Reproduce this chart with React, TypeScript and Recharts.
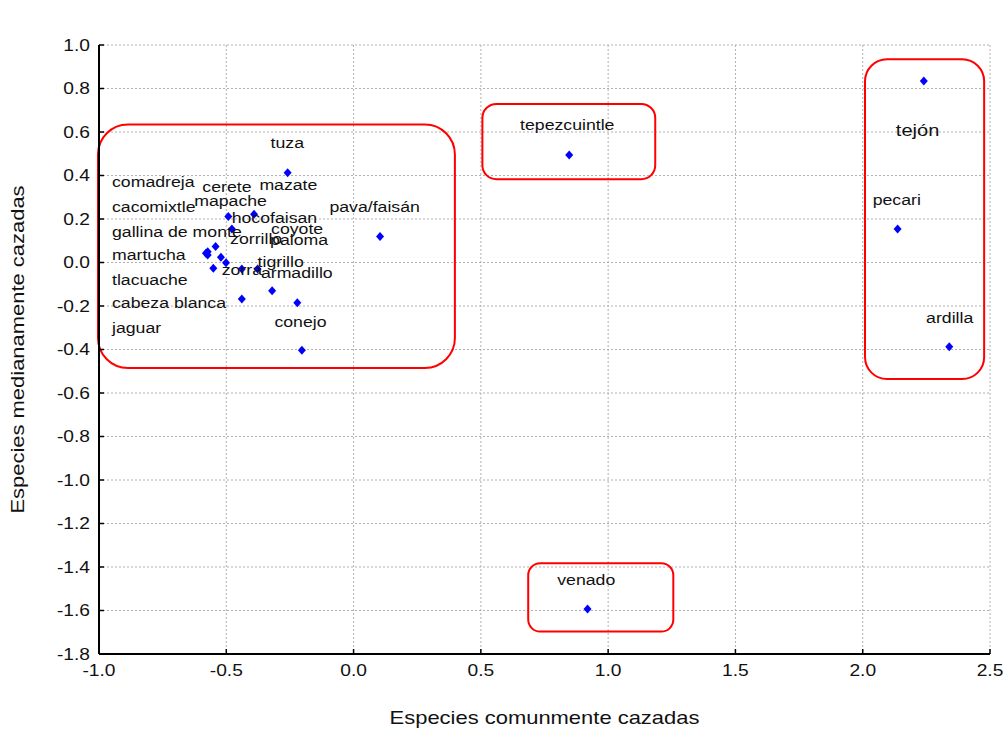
import React from "react";
import {
  ScatterChart,
  Scatter,
  XAxis,
  YAxis,
  CartesianGrid,
  ReferenceArea,
} from "recharts";

document.body.style.margin = "0";

const X_TICKS = [-1.0, -0.5, 0.0, 0.5, 1.0, 1.5, 2.0, 2.5];
const Y_TICKS = [1.0, 0.8, 0.6, 0.4, 0.2, 0.0, -0.2, -0.4, -0.6, -0.8, -1.0, -1.2, -1.4, -1.6, -1.8];

// species coordinates (dimension 1 / dimension 2)
const POINT_X = [
  -0.259, -0.492, -0.391, 0.104, -0.542, -0.573, -0.573, -0.58, -0.521, -0.501,
  -0.551, -0.439, -0.377, -0.32, -0.439, -0.221, -0.203, -0.478, 0.847, 2.24,
  2.137, 2.34, 0.919,
];
const POINT_Y = [
  0.413, 0.211, 0.222, 0.119, 0.073, 0.05, 0.034, 0.043, 0.024, -0.001, -0.027,
  -0.03, -0.03, -0.13, -0.168, -0.185, -0.404, 0.154, 0.494, 0.834, 0.154,
  -0.387, -1.593,
];

// label text and where it sits (left edge / baseline, data units)
const LABEL_TEXT = [
  "tuza", "comadreja", "cerete", "mazate", "cacomixtle", "mapache", "pava/faisán",
  "hocofaisan", "gallina de monte", "coyote", "zorrillo", "paloma", "martucha",
  "tigrillo", "zorra", "armadillo", "tlacuache", "cabeza blanca", "conejo",
  "jaguar", "tepezcuintle", "tejón", "pecari", "ardilla", "venado",
];
const LABEL_X = [
  -0.326, -0.949, -0.594, -0.37, -0.949, -0.626, -0.095, -0.479, -0.949, -0.324,
  -0.485, -0.328, -0.949, -0.377, -0.518, -0.364, -0.949, -0.949, -0.311, -0.949,
  0.654, 2.13, 2.039, 2.249, 0.8,
];
const LABEL_Y = [
  0.525, 0.349, 0.323, 0.333, 0.234, 0.26, 0.234, 0.18, 0.116, 0.13, 0.085, 0.08,
  0.011, -0.019, -0.057, -0.073, -0.103, -0.211, -0.295, -0.326, 0.609, 0.582,
  0.264, -0.277, -1.483,
];

// grouping boxes
const BOX_X1 = [-1.004, 0.506, 2.009, 0.686];
const BOX_X2 = [0.398, 1.185, 2.477, 1.256];
const BOX_Y1 = [0.635, 0.729, 0.934, -1.383];
const BOX_Y2 = [-0.485, 0.383, -0.536, -1.697];
const boxCorner = [30, 14, 22, 12];

const points = POINT_X.map((x, i) => ({ x, y: POINT_Y[i] }));
const labels = LABEL_TEXT.map((name, i) => ({ x: LABEL_X[i], y: LABEL_Y[i], name }));

const FONT = "'Liberation Sans', Arial, sans-serif";

function StretchText({ x, y, size, sx = 1.18, anchor = "start", dy, rotate, children }: any) {
  const t = `translate(${x},${y})${rotate ? ` rotate(${rotate})` : ""} scale(${sx},1)`;
  return (
    <text transform={t} x={0} y={0} dy={dy} textAnchor={anchor} fontSize={size} fontFamily={FONT} fill="#111">
      {children}
    </text>
  );
}

const Diamond = (p: any) => (
  <polygon
    points={`${p.cx},${p.cy - 4.5} ${p.cx + 4},${p.cy} ${p.cx},${p.cy + 4.5} ${p.cx - 4},${p.cy}`}
    fill="#0000ff"
  />
);

const LabelShape = (p: any) => (
  <StretchText x={p.cx} y={p.cy} size={p.payload.name === "tejón" ? 17 : 15}>
    {p.payload.name}
  </StretchText>
);

const XTick = (p: any) => (
  <StretchText x={p.x} y={p.y} dy="0.71em" anchor="middle" size={16} sx={1.2}>
    {Number(p.payload.value).toFixed(1)}
  </StretchText>
);

const YTick = (p: any) => (
  <StretchText x={p.x} y={p.y} dy="0.35em" anchor="end" size={16} sx={1.2}>
    {Number(p.payload.value).toFixed(1)}
  </StretchText>
);

const XTitle = ({ viewBox }: any) => (
  <StretchText x={viewBox.x + viewBox.width / 2} y={viewBox.y + 70} anchor="middle" size={18} sx={1.22}>
    Especies comunmente cazadas
  </StretchText>
);

const YTitle = ({ viewBox }: any) => (
  <StretchText x={viewBox.x + 18} y={viewBox.y + viewBox.height / 2} dy="0.35em" rotate={-90} anchor="middle" size={18} sx={1.22}>
    Especies medianamente cazadas
  </StretchText>
);

const ChartTitle = ({ viewBox }: any) => (
  <StretchText x={514} y={viewBox.y - 22} anchor="middle" size={18} sx={1.18}>
    Escalamiento multidimensional
  </StretchText>
);

const axisLine = { stroke: "#000", strokeWidth: 2 };
const tickLine = { stroke: "#000", strokeWidth: 1.5 };

export default function App() {
  return (
    <div style={{ width: 1008, height: 734, background: "#fff" }}>
      <ScatterChart width={1008} height={734} margin={{ top: 45, right: 18, bottom: 0, left: 0 }}>
        <CartesianGrid stroke="#b0b0b0" strokeDasharray="2 2" />
        <XAxis
          type="number"
          dataKey="x"
          domain={[-1, 2.5]}
          ticks={X_TICKS}
          interval={0}
          allowDataOverflow
          height={80}
          tickSize={-5}
          tickMargin={16}
          tick={XTick}
          axisLine={axisLine}
          tickLine={tickLine}
          label={<XTitle />}
        />
        <XAxis
          xAxisId="top"
          orientation="top"
          type="number"
          dataKey="x"
          domain={[-1, 2.5]}
          ticks={X_TICKS}
          interval={0}
          allowDataOverflow
          height={0}
          tickSize={-5}
          tick={false}
          axisLine={axisLine}
          tickLine={tickLine}
          label={<ChartTitle />}
        />
        <YAxis
          type="number"
          dataKey="y"
          domain={[-1.8, 1.0]}
          ticks={Y_TICKS}
          interval={0}
          allowDataOverflow
          width={99}
          tickSize={-5}
          tickMargin={14}
          tick={YTick}
          axisLine={axisLine}
          tickLine={tickLine}
          label={<YTitle />}
        />
        <YAxis
          yAxisId="right"
          orientation="right"
          type="number"
          dataKey="y"
          domain={[-1.8, 1.0]}
          ticks={Y_TICKS}
          interval={0}
          allowDataOverflow
          width={0}
          tickSize={-5}
          tick={false}
          axisLine={axisLine}
          tickLine={tickLine}
        />
        {BOX_X1.map((x1, i) => (
          <ReferenceArea
            key={i}
            x1={x1}
            x2={BOX_X2[i]}
            y1={BOX_Y1[i]}
            y2={BOX_Y2[i]}
            ifOverflow="visible"
            shape={(p: any) => (
              <rect
                x={p.x}
                y={p.y}
                width={p.width}
                height={p.height}
                rx={boxCorner[i]}
                ry={boxCorner[i]}
                fill="none"
                stroke="#ff0000"
                strokeWidth={2}
              />
            )}
          />
        ))}
        <Scatter data={points} shape={Diamond} isAnimationActive={false} />
        <Scatter data={labels} shape={LabelShape} isAnimationActive={false} />
      </ScatterChart>
    </div>
  );
}
